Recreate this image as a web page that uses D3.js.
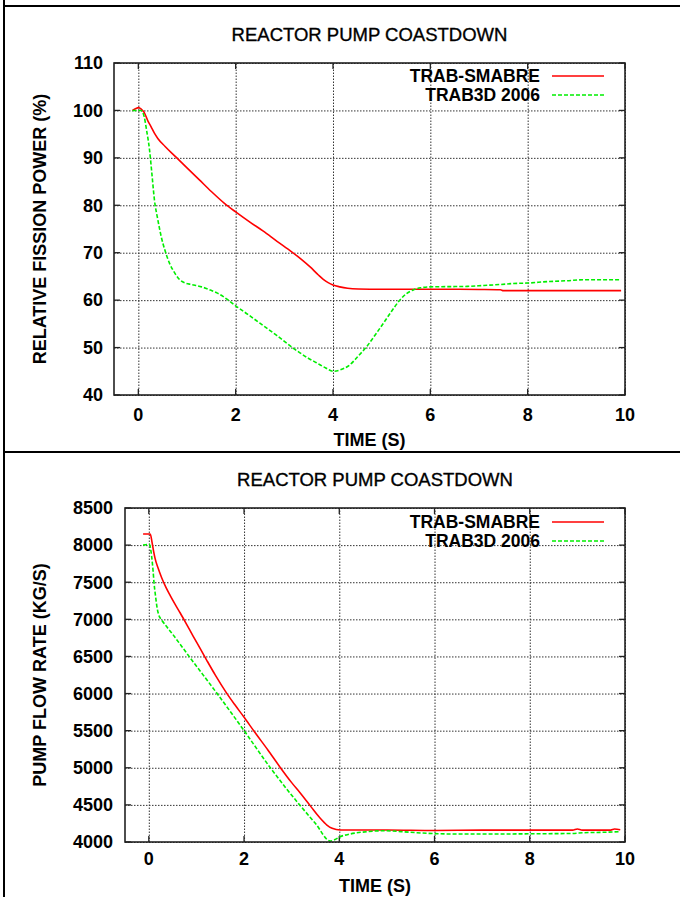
<!DOCTYPE html>
<html><head><meta charset="utf-8">
<script src="https://cdn.jsdelivr.net/npm/d3@7"></script>
<style>body{margin:0;background:#fff}</style>
</head><body><svg id="c" width="680" height="897"></svg>
<script>
const titleText = "REACTOR PUMP COASTDOWN";
const seriesNames = ["TRAB-SMABRE", "TRAB3D 2006"];
const seriesColors = ["#ff0000", "#00ee00"];
const timeTicks = [0, 2, 4, 6, 8, 10];
const powerTicks = [40, 50, 60, 70, 80, 90, 100, 110];
const flowTicks = [4000, 4500, 5000, 5500, 6000, 6500, 7000, 7500, 8000, 8500];

const powerSmabre = [[-0.12,100],[-0.05,100.4],[0,100.6],[0.06,100.3],[0.12,99.6],[0.2,97.7],[0.26,96.6],[0.33,95.2],[0.40,94.1],[0.55,92.4],[0.78,90.1],[1.0,87.9],[1.26,85.3],[1.5,82.9],[1.77,80.4],[2.0,78.6],[2.3,76.4],[2.56,74.6],[2.85,72.4],[3.15,70.2],[3.35,68.6],[3.53,67.0],[3.7,65.3],[3.8,64.4],[3.9,63.7],[4.0,63.2],[4.14,62.8],[4.3,62.5],[4.52,62.35],[5,62.3],[6,62.3],[7,62.25],[7.44,62.2],[7.5,62.0],[8,62.0],[9,62.0],[9.92,62.0]];
const powerTrab3d = [[-0.12,100],[0.05,100],[0.09,99.6],[0.12,98.7],[0.17,95.8],[0.23,91.7],[0.28,86.5],[0.33,81.2],[0.4,77],[0.47,73.4],[0.55,70.4],[0.64,67.8],[0.75,65.7],[0.85,64.3],[0.97,63.6],[1.09,63.3],[1.3,62.8],[1.46,62.2],[1.6,61.6],[1.74,60.8],[1.87,59.8],[2.0,58.8],[2.25,57.0],[2.49,55.2],[2.85,52.5],[3.18,49.9],[3.32,48.9],[3.5,47.7],[3.66,46.8],[3.85,45.7],[4.01,45.0],[4.15,45.3],[4.35,46.4],[4.5,48.0],[4.7,50.3],[4.87,52.7],[5.04,55.2],[5.2,57.6],[5.38,60.1],[5.5,61.3],[5.66,62.2],[5.8,62.6],[6.0,62.8],[6.4,62.85],[6.76,62.9],[7.1,63.1],[7.44,63.3],[7.7,63.5],[7.99,63.6],[8.4,63.9],[8.81,64.1],[9.16,64.3],[9.5,64.3],[9.92,64.3]];

const flowSmabre = [[-0.12,8150],[0.03,8150],[0.07,8030],[0.1,7920],[0.13,7824],[0.2,7680],[0.27,7560],[0.36,7430],[0.45,7320],[0.55,7205],[0.66,7085],[0.8,6925],[0.93,6775],[1.08,6605],[1.22,6445],[1.4,6245],[1.62,6020],[1.8,5855],[1.99,5690],[2.23,5475],[2.5,5240],[2.76,5005],[3.0,4800],[3.18,4660],[3.4,4480],[3.6,4320],[3.74,4229],[3.85,4185],[4.02,4162],[5,4162],[6,4155],[7,4160],[8,4160],[8.9,4160],[9.0,4175],[9.1,4160],[9.7,4160],[9.78,4175],[9.9,4165]];
const flowTrab3d = [[-0.12,8000],[0.01,8010],[0.06,7846],[0.09,7650],[0.11,7487],[0.14,7320],[0.17,7172],[0.22,7040],[0.26,7000],[0.5,6800],[0.87,6480],[1.43,6004],[1.99,5510],[2.55,5002],[3.18,4490],[3.5,4250],[3.81,4013],[3.9,4030],[4.02,4072],[4.23,4108],[4.6,4140],[4.93,4152],[5.3,4140],[5.63,4125],[6.4,4108],[7.39,4108],[8.1,4111],[8.9,4115],[9.13,4125],[9.5,4130],[9.9,4139]];

const svg = d3.select("#c");
const FONT = "'Liberation Sans', Arial, Helvetica, sans-serif";

svg.append("line").attr("x1",4).attr("y1",0).attr("x2",4).attr("y2",897).attr("stroke","#000").attr("stroke-width",2);
svg.append("line").attr("x1",4).attr("y1",6).attr("x2",680).attr("y2",6).attr("stroke","#000").attr("stroke-width",2);
svg.append("line").attr("x1",4).attr("y1",452).attr("x2",680).attr("y2",452).attr("stroke","#000").attr("stroke-width",2);

function panel(cfg) {
  const x = d3.scaleLinear().domain([-0.5, 10]).range([cfg.l, cfg.r]);
  const y = d3.scaleLinear().domain(cfg.yDomain).range([cfg.b, cfg.t]);
  const g = svg.append("g");
  const gridStyle = s => s.attr("stroke","#333").attr("stroke-width",1).attr("stroke-dasharray","1.5,1.5");
  g.append("g").attr("transform",`translate(0,${cfg.b})`)
    .call(d3.axisBottom(x).tickValues(timeTicks).tickSize(-(cfg.b-cfg.t)).tickFormat(""))
    .call(a => a.select(".domain").remove())
    .call(a => a.selectAll("line").call(gridStyle));
  g.append("g").attr("transform",`translate(${cfg.l},0)`)
    .call(d3.axisLeft(y).tickValues(cfg.yTicks).tickSize(-(cfg.r-cfg.l)).tickFormat(""))
    .call(a => a.select(".domain").remove())
    .call(a => a.selectAll("line").call(gridStyle));
  const tk = 6;
  const tickG = g.append("g").attr("stroke","#222").attr("stroke-width",1.3);
  timeTicks.forEach(t => {
    tickG.append("line").attr("x1",x(t)).attr("x2",x(t)).attr("y1",cfg.b).attr("y2",cfg.b-tk);
    tickG.append("line").attr("x1",x(t)).attr("x2",x(t)).attr("y1",cfg.t).attr("y2",cfg.t+tk);
  });
  cfg.yTicks.forEach(v => {
    tickG.append("line").attr("x1",cfg.l).attr("x2",cfg.l+tk).attr("y1",y(v)).attr("y2",y(v));
    tickG.append("line").attr("x1",cfg.r).attr("x2",cfg.r-tk).attr("y1",y(v)).attr("y2",y(v));
  });
  g.append("g").selectAll("text").data(timeTicks).join("text")
    .attr("x", d => x(d)).attr("y", cfg.xTickY).attr("dy","0.35em")
    .attr("text-anchor","middle").attr("font-family",FONT).attr("font-size",18).attr("font-weight","bold")
    .text(d => d);
  g.append("g").selectAll("text").data(cfg.yTicks).join("text")
    .attr("x", cfg.yTickX).attr("y", d => y(d)).attr("dy","0.35em")
    .attr("text-anchor","end").attr("font-family",FONT).attr("font-size",18).attr("font-weight","bold")
    .text(d => d);
  const line = d3.line().curve(d3.curveMonotoneX).x(d => x(d[0])).y(d => y(d[1]));
  cfg.series.forEach((s, i) => {
    g.append("path").datum(s).attr("d", line).attr("fill","none")
      .attr("stroke", seriesColors[i]).attr("stroke-width",1.6)
      .attr("stroke-dasharray", i === 1 ? "4,2" : null);
  });
  g.append("rect").attr("x",cfg.l).attr("y",cfg.t).attr("width",cfg.r-cfg.l).attr("height",cfg.b-cfg.t)
    .attr("fill","none").attr("stroke","#222").attr("stroke-width",1.6);
  seriesNames.forEach((n, i) => {
    const ly = cfg.legendY[i];
    g.append("text").attr("x",540).attr("y",ly).attr("dy","0.35em").attr("text-anchor","end")
      .attr("font-family",FONT).attr("font-size",17.5).attr("font-weight","bold").text(n);
    g.append("line").attr("x1",552).attr("x2",604).attr("y1",ly).attr("y2",ly)
      .attr("stroke",seriesColors[i]).attr("stroke-width",1.6)
      .attr("stroke-dasharray", i === 1 ? "4,2" : null);
  });
  g.append("text").attr("x",(cfg.l+cfg.r)/2).attr("y",cfg.titleY).attr("dy","0.35em").attr("text-anchor","middle")
    .attr("font-family",FONT).attr("font-size",18.5).attr("stroke","#000").attr("stroke-width",0.35).text(titleText);
  g.append("text").attr("x",(cfg.l+cfg.r)/2).attr("y",cfg.xLabelY).attr("dy","0.35em").attr("text-anchor","middle")
    .attr("font-family",FONT).attr("font-size",18).attr("font-weight","bold").text("TIME (S)");
  g.append("text").attr("transform",`translate(${cfg.yLabelX},${cfg.yLabelY}) rotate(-90)`).attr("dy","0.35em")
    .attr("text-anchor","middle").attr("font-family",FONT).attr("font-size",18).attr("font-weight","bold").text(cfg.yLabel);
}

panel({l:114, r:625, t:63, b:395, yDomain:[40,110], yTicks:powerTicks, series:[powerSmabre, powerTrab3d],
  titleY:35, xTickY:415, xLabelY:440, yTickX:103, yLabelX:40, yLabelY:229, legendY:[76,95],
  yLabel:"RELATIVE FISSION POWER (%)"});
panel({l:125, r:625, t:508, b:842, yDomain:[4000,8500], yTicks:flowTicks, series:[flowSmabre, flowTrab3d],
  titleY:480, xTickY:859, xLabelY:886, yTickX:113, yLabelX:40, yLabelY:675, legendY:[522,541],
  yLabel:"PUMP FLOW RATE (KG/S)"});
</script></body></html>
